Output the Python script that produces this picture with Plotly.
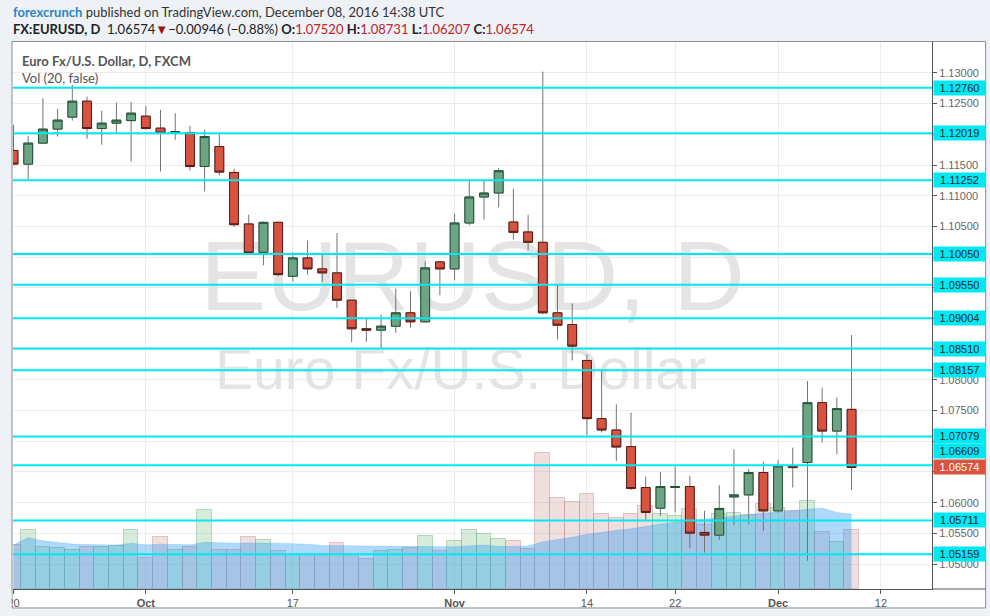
import plotly.graph_objects as go
import pandas as pd

# ---------------- data ----------------
DATES = ["Sep 20", "Sep 21", "Sep 22", "Sep 23", "Sep 26", "Sep 27", "Sep 28", "Sep 29", "Sep 30",
         "Oct 3", "Oct 4", "Oct 5", "Oct 6", "Oct 7", "Oct 10", "Oct 11", "Oct 12", "Oct 13", "Oct 14",
         "Oct 17", "Oct 18", "Oct 19", "Oct 20", "Oct 21", "Oct 24", "Oct 25", "Oct 26", "Oct 27", "Oct 28",
         "Oct 31", "Nov 1", "Nov 2", "Nov 3", "Nov 4", "Nov 7", "Nov 8", "Nov 9", "Nov 10", "Nov 11",
         "Nov 14", "Nov 15", "Nov 16", "Nov 17", "Nov 18", "Nov 21", "Nov 22", "Nov 23", "Nov 24", "Nov 25",
         "Nov 28", "Nov 29", "Nov 30", "Dec 1", "Dec 2", "Dec 5", "Dec 6", "Dec 7", "Dec 8"]

OPEN = [1.11737, 1.11515, 1.11857, 1.12085, 1.12280, 1.12540, 1.12094, 1.12182, 1.12224, 1.12296,
        1.12101, 1.12020, 1.12029, 1.11476, 1.11802, 1.11379, 1.10540, 1.10078, 1.10566, 1.09688,
        1.09987, 1.09808, 1.09743, 1.09298, 1.08833, 1.08810, 1.08875, 1.09093, 1.08946, 1.09922,
        1.09808, 1.10556, 1.10979, 1.11044, 1.10572, 1.10410, 1.10241, 1.09093, 1.08902, 1.08317,
        1.07369, 1.07184, 1.06914, 1.06247, 1.05910, 1.06247, 1.06263, 1.05515, 1.05472, 1.06094,
        1.06127, 1.06491, 1.05867, 1.06598, 1.06654, 1.07629, 1.07167, 1.07520]
HIGH = [1.12154, 1.11976, 1.12589, 1.12415, 1.12805, 1.12615, 1.12382, 1.12517, 1.12528, 1.12463,
        1.12398, 1.12345, 1.12138, 1.12073, 1.12029, 1.11439, 1.10691, 1.10582, 1.10582, 1.10078,
        1.10268, 1.10052, 1.10393, 1.09300, 1.08995, 1.09065, 1.09488, 1.09444, 1.09932, 1.09930,
        1.10707, 1.11249, 1.11260, 1.11450, 1.11114, 1.10691, 1.13021, 1.09553, 1.09244, 1.08415,
        1.08171, 1.07602, 1.07467, 1.06426, 1.06500, 1.06589, 1.06436, 1.05867, 1.06285, 1.06870,
        1.06545, 1.06670, 1.06691, 1.06898, 1.07980, 1.07873, 1.07711, 1.08731]
LOW = [1.11500, 1.11260, 1.11850, 1.11964, 1.12224, 1.11927, 1.11829, 1.12003, 1.11558, 1.12080,
       1.11395, 1.11911, 1.11411, 1.11070, 1.11330, 1.10491, 1.10060, 1.09867, 1.09688, 1.09602,
       1.09715, 1.09597, 1.09174, 1.08615, 1.08615, 1.08517, 1.08767, 1.08849, 1.08940, 1.09379,
       1.09623, 1.10517, 1.10610, 1.10810, 1.10285, 1.10111, 1.09070, 1.08659, 1.08317, 1.07103,
       1.07142, 1.06680, 1.06208, 1.05700, 1.05785, 1.05841, 1.05255, 1.05190, 1.05395, 1.05634,
       1.05650, 1.05541, 1.05841, 1.06247, 1.05054, 1.06979, 1.06789, 1.06207]
CLOSE = [1.11515, 1.11857, 1.12085, 1.12231, 1.12540, 1.12094, 1.12182, 1.12231, 1.12345, 1.12094,
         1.12020, 1.12046, 1.11476, 1.11964, 1.11385, 1.10528, 1.10068, 1.10566, 1.09715, 1.09987,
         1.09808, 1.09743, 1.09298, 1.08833, 1.08810, 1.08875, 1.09093, 1.08946, 1.09824, 1.09808,
         1.10556, 1.10979, 1.11044, 1.11407, 1.10403, 1.10241, 1.09093, 1.08891, 1.08550, 1.07369,
         1.07184, 1.06907, 1.06231, 1.05841, 1.06263, 1.06263, 1.05504, 1.05472, 1.05906, 1.06127,
         1.06491, 1.05867, 1.06598, 1.06572, 1.07629, 1.07167, 1.07532, 1.06574]
# volume (thousands of ticks, approximate)
VOLUME = [110, 148, 104, 102, 98, 106, 106, 108, 148, 77,
          129, 98, 106, 198, 98, 98, 129, 123, 95, 85,
          85, 85, 114, 85, 75, 95, 98, 103, 132, 95,
          119, 148, 139, 125, 121, 100, 340, 229, 218, 239,
          189, 179, 188, 207, 189, 183, 200, 160, 189, 190,
          185, 212, 204, 195, 220, 142, 117, 148]

LEVELS = [1.12760, 1.12019, 1.11252, 1.10050, 1.09550, 1.09004, 1.08510,
          1.08157, 1.07079, 1.06609, 1.05711, 1.05159]

PRICE_TICKS = [1.050, 1.055, 1.060, 1.065, 1.070, 1.075, 1.080, 1.085, 1.090,
               1.095, 1.100, 1.105, 1.110, 1.115, 1.120, 1.125, 1.130]
PRICE_TICK_TEXT = ["1.05000", "1.05500", "1.06000", "", "", "1.07500", "1.08000", "", "",
                   "", "", "1.10500", "1.11000", "1.11500", "", "1.12500", "1.13000"]

TIME_TICK_POS = [0, 9, 19, 30, 39, 45, 52, 59]
TIME_TICK_TEXT = ["20", "<b>Oct</b>", "17", "<b>Nov</b>", "14", "22", "<b>Dec</b>", "12"]

# ---------------- geometry ----------------
W, H = 990, 616
L, R, T, B = 7, 932, 42, 590          # plot area in px
PW, PH = R - L, B - T
X_RANGE = [-0.034, 62.47]
P_RANGE = [1.04594, 1.13504]
V_MAX = 1370


def px(xp):
    return (xp - L) / PW


def py(yp):
    return (B - yp) / PH


BG = "#eef1f5"
UP, DOWN = "#6ba583", "#d75442"
UP_BORDER, DOWN_BORDER = "#225437", "#5b1a13"
WICK = "#737375"
CYAN = "#00e8f2"

idx = list(range(len(DATES)))
body_hi = [max(o, c) for o, c in zip(OPEN, CLOSE)]
body_lo = [min(o, c) for o, c in zip(OPEN, CLOSE)]
is_up = [c >= o for o, c in zip(OPEN, CLOSE)]
vol_fill = ["rgba(140,200,150,0.35)" if u else "rgba(205,150,150,0.30)" for u in is_up]
vol_line = ["rgba(110,170,125,0.45)" if u else "rgba(185,130,130,0.40)" for u in is_up]
vol_ma = pd.Series(VOLUME).rolling(20, min_periods=1).mean().tolist()

fig = go.Figure()

# volume bars (bottom layer)
fig.add_trace(go.Bar(x=idx, y=VOLUME, marker=dict(color=vol_fill, line=dict(color=vol_line, width=1)),
                     xaxis="x", yaxis="y", hoverinfo="skip"))
# volume MA area
fig.add_trace(go.Scatter(x=idx, y=vol_ma, mode="lines", fill="tozeroy",
                         line=dict(color="rgba(33,150,243,0.40)", width=0.5),
                         fillcolor="rgba(33,150,243,0.36)", xaxis="x", yaxis="y", hoverinfo="skip"))
# watermark
xm = X_RANGE[0] + (X_RANGE[1] - X_RANGE[0]) * 0.5
fig.add_trace(go.Scatter(x=[xm], y=[V_MAX * 0.555], mode="text", text=["EURUSD, D"],
                         textfont=dict(size=99, color="#e4e4e4", family="Liberation Sans"),
                         xaxis="x", yaxis="y", hoverinfo="skip"))
fig.add_trace(go.Scatter(x=[X_RANGE[0] + (X_RANGE[1] - X_RANGE[0]) * 0.487], y=[V_MAX * 0.392],
                         mode="text", text=["Euro Fx/U.S. Dollar"],
                         textfont=dict(size=57, color="#e4e4e4", family="Liberation Sans"),
                         xaxis="x", yaxis="y", hoverinfo="skip"))

# candles: grey wicks
fig.add_trace(go.Candlestick(x=idx, open=OPEN, high=HIGH, low=LOW, close=CLOSE,
                             increasing=dict(line=dict(color=WICK, width=1), fillcolor="rgba(0,0,0,0)"),
                             decreasing=dict(line=dict(color=WICK, width=1), fillcolor="rgba(0,0,0,0)"),
                             xaxis="x", yaxis="y2", hoverinfo="skip", showlegend=False))
# candles: bodies
fig.add_trace(go.Candlestick(x=idx, open=OPEN, high=body_hi, low=body_lo, close=CLOSE,
                             increasing=dict(line=dict(color=UP_BORDER, width=1), fillcolor=UP),
                             decreasing=dict(line=dict(color=DOWN_BORDER, width=1), fillcolor=DOWN),
                             xaxis="x", yaxis="y2", hoverinfo="skip", showlegend=False))

shapes = [
    dict(type="rect", xref="paper", yref="paper", x0=px(6), x1=px(986), y0=py(609), y1=py(41.5),
         fillcolor="white", line=dict(color="#8c8c8c", width=1), layer="below"),
    dict(type="line", xref="paper", yref="paper", x0=1, x1=px(986), y0=0, y1=0,
         line=dict(color="#555555", width=1), layer="above"),
    dict(type="rect", xref="paper", yref="paper", x0=px(0), x1=px(5.6), y0=py(612), y1=py(592),
         fillcolor=BG, line=dict(width=0), layer="above"),
]
for lv in LEVELS:
    shapes.append(dict(type="line", xref="paper", yref="y2", x0=0, x1=1, y0=lv, y1=lv,
                       line=dict(color=CYAN, width=2), layer="above"))

annotations = []
for lv in LEVELS:
    annotations.append(dict(xref="paper", yref="y2", x=1, y=lv, xanchor="left", yanchor="middle",
                            xshift=1, yshift=14 if lv == 1.06609 else 0,
                            text=f"{lv:.5f}", showarrow=False, bgcolor=CYAN, borderpad=1,
                            width=49, height=12, align="center",
                            font=dict(family="Liberation Sans", size=11, color="#1b2b2b")))
last = CLOSE[-1]
annotations.append(dict(xref="paper", yref="y2", x=1, y=last, xanchor="left", yanchor="middle",
                        xshift=1, text=f"{last:.5f}", showarrow=False, bgcolor="#d9533f", borderpad=1,
                        width=49, height=12, align="center",
                        font=dict(family="Liberation Sans", size=11, color="white")))

RED = "#c0232b"
annotations += [
    dict(xref="paper", yref="paper", x=px(5), y=py(12), xanchor="left", yanchor="middle", showarrow=False,
         text="<b><span style='color:#2a86c6'>forexcrunch</span></b> published on TradingView.com, December 08, 2016 14:38 UTC",
         font=dict(family="Lato", size=13, color="#333333")),
    dict(xref="paper", yref="paper", x=px(5), y=py(29), xanchor="left", yanchor="middle", showarrow=False,
         text=("<b>FX:EURUSD, D</b>  1.06574<span style='color:#a01010'>▼</span>−0.00946 (−0.88%) "
               f"<b>O:</b><span style='color:{RED}'>1.07520</span> <b>H:</b><span style='color:{RED}'>1.08731</span> "
               f"<b>L:</b><span style='color:{RED}'>1.06207</span> <b>C:</b><span style='color:{RED}'>1.06574</span>"),
         font=dict(family="Lato", size=13, color="#222222")),
    dict(xref="paper", yref="paper", x=px(14), y=py(61), xanchor="left", yanchor="middle", showarrow=False,
         text="<b>Euro Fx/U.S. Dollar, D, FXCM</b>", font=dict(family="Lato", size=13, color="#555555")),
    dict(xref="paper", yref="paper", x=px(14), y=py(78), xanchor="left", yanchor="middle", showarrow=False,
         text="Vol (20, false)", font=dict(family="Lato", size=13, color="#555555")),
]

fig.update_layout(
    width=W, height=H, margin=dict(l=L, r=W - R, t=T, b=H - B),
    paper_bgcolor=BG, plot_bgcolor="white", showlegend=False,
    bargap=0, boxgap=0.25, boxgroupgap=0.2,
    xaxis=dict(range=X_RANGE, tickmode="array", tickvals=TIME_TICK_POS, ticktext=TIME_TICK_TEXT,
               showgrid=True, gridcolor="#ececec", gridwidth=1, zeroline=False,
               showline=True, linecolor="#555555", linewidth=1, ticks="outside", ticklen=4,
               tickcolor="#555555", tickfont=dict(family="Liberation Sans", size=11, color="#555555"),
               rangeslider=dict(visible=False), fixedrange=True),
    yaxis=dict(range=[0, V_MAX], visible=False, fixedrange=True),
    yaxis2=dict(range=P_RANGE, overlaying="y", side="right", tickmode="array", tickvals=PRICE_TICKS,
                ticktext=PRICE_TICK_TEXT, showgrid=True, gridcolor="#ececec", zeroline=False,
                showline=True, linecolor="#555555", linewidth=1, ticks="outside", ticklen=4,
                tickcolor="#555555", tickfont=dict(family="Liberation Sans", size=11, color="#666666"),
                fixedrange=True),
    shapes=shapes, annotations=annotations,
)

fig.write_html("out.html", config={"displayModeBar": False},
               post_script="document.body.style.margin='0px';document.body.style.overflow='hidden';")
